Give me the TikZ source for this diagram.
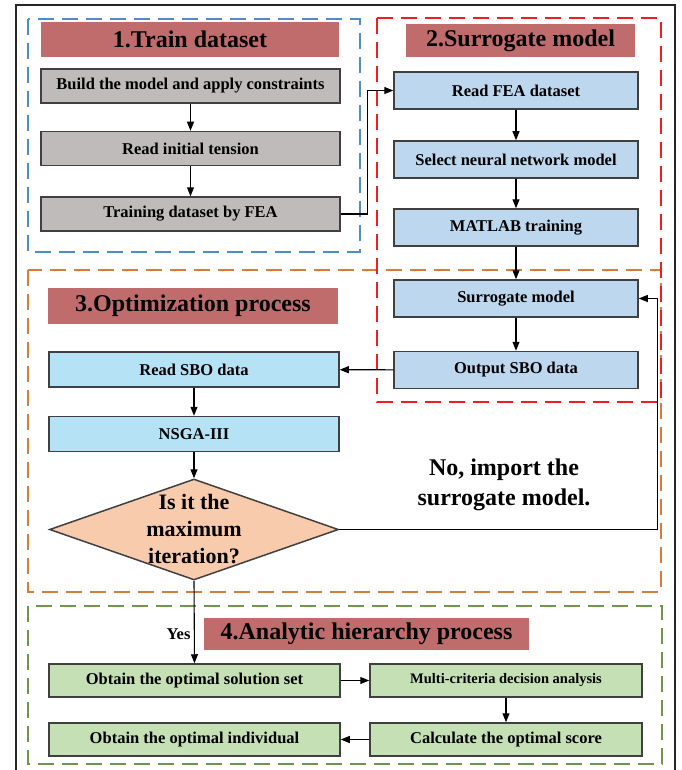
\documentclass[tikz,border=0pt]{standalone}
\usepackage{fontspec}
\setmainfont{Liberation Serif}
\usetikzlibrary{shapes.geometric,arrows.meta}
\definecolor{titlered}{RGB}{192,108,108}
\definecolor{boxgray}{RGB}{191,187,186}
\definecolor{boxblue}{RGB}{189,215,238}
\definecolor{boxcyan}{RGB}{182,226,246}
\definecolor{boxpeach}{RGB}{248,203,173}
\definecolor{boxgreen}{RGB}{197,224,180}
\definecolor{dashblue}{RGB}{80,140,200}
\definecolor{dashred}{RGB}{240,30,30}
\definecolor{dashorange}{RGB}{214,125,60}
\definecolor{dashgreen}{RGB}{110,150,80}

\begin{document}
\begin{tikzpicture}[x=1pt, y=-1pt,
			box/.style={draw=black!75, line width=1.5pt, inner sep=0pt, font=\bfseries\fontsize{16.5}{20}\selectfont},
			graybox/.style={box, fill=boxgray, minimum width=299pt, minimum height=34pt},
			bluebox/.style={box, fill=boxblue, minimum width=244pt, minimum height=37pt},
			cyanbox/.style={box, fill=boxcyan, minimum width=290pt, minimum height=35pt},
			greenbox/.style={box, fill=boxgreen, minimum height=33pt},
			titlebox/.style={fill=titlered, inner sep=0pt, font=\bfseries\fontsize{24}{29}\selectfont},
			decision/.style={diamond, draw=black!75, line width=1.5pt, fill=boxpeach, inner sep=0pt,
				minimum width=289pt, minimum height=101pt},
			dtext/.style={align=center, inner sep=0pt, font=\bfseries\fontsize{22}{27}\selectfont},
			arr/.style={-{Triangle[length=9pt,width=7pt]}, line width=1.1pt},
			frame/.style={line width=2pt, dash pattern=on 16pt off 8pt}]
			\useasboundingbox (0,0) rectangle (681,770);
			\draw[line width=1.8pt, black!85] (16,770) -- (16,5) -- (675,5) -- (675,770);
			\draw[frame, dashblue] (28,19) rectangle (360,252);
			\draw[frame, dashorange] (28,270) rectangle (661,592);
			\draw[frame, dashred] (377,18) rectangle (661,402);
			\draw[frame, dashgreen] (28,606) rectangle (662,764);

			\node[titlebox, minimum width=298pt, minimum height=35pt] (t1) at (190,39.5) {1.Train dataset};
			\node[titlebox, minimum width=229pt, minimum height=33pt] (t2) at (520.5,40.5) {2.Surrogate model};
			\node[titlebox, minimum width=290pt, minimum height=36pt] (t3) at (193,306) {3.Optimization process};
			\node[titlebox, minimum width=325pt, minimum height=32pt] (t4) at (366.5,634) {4.Analytic hierarchy process};

			\node[graybox] (build) at (190.5,86) {Build the model and apply constraints};
			\node[graybox] (tension) at (190.5,148.5) {Read initial tension};
			\node[graybox] (fea) at (190.5,214) {Training dataset by FEA};

			\node[bluebox] (readfea) at (516,90.5) {Read FEA dataset};
			\node[bluebox] (select) at (516,159.5) {Select neural network model};
			\node[bluebox] (matlab) at (516,227.5) {MATLAB training};
			\node[bluebox] (surr) at (516,298.5) {Surrogate model};
			\node[bluebox] (output) at (516,370) {Output SBO data};

			\node[cyanbox] (readsbo) at (194,369.5) {Read SBO data};
			\node[cyanbox] (nsga) at (194,434) {NSGA-III};
			\node[decision, label={[dtext]center:{Is it the\\maximum\\iteration?}}] (check) at (194,529.5) {};
			\node[align=center, font=\bfseries\fontsize{24}{30}\selectfont] (notext) at (504,485) {No, import the\\surrogate model.};

			\node[greenbox, minimum width=291pt] (sol) at (194.5,680.5) {Obtain the optimal solution set};
			\node[greenbox, minimum width=272pt, font=\bfseries\fontsize{14.5}{18}\selectfont] (multi) at (506,680.5) {Multi-criteria decision analysis};
			\node[greenbox, minimum width=272pt] (calc) at (506,739.5) {Calculate the optimal score};
			\node[greenbox, minimum width=291pt] (indiv) at (194.5,739.5) {Obtain the optimal individual};

			\draw[arr] (build) -- (tension);
			\draw[arr] (tension) -- (fea);
			\draw[arr] (fea.east) -- ++(27,0) |- (readfea.west);
			\draw[arr] (readfea) -- (select);
			\draw[arr] (select) -- (matlab);
			\draw[arr] (matlab) -- (surr);
			\draw[arr] (surr) -- (output);
			\draw[arr] (output) -- (readsbo);
			\draw[arr] (readsbo) -- (nsga);
			\draw[arr] (nsga) -- (check);
			\draw[arr] (check.east) -| ([xshift=19pt]surr.east) -- (surr.east);
			\draw[arr] (check.south) -- node[pos=0.65, left, font=\bfseries\fontsize{16.5}{20}\selectfont] {Yes} (sol.north);
			\draw[arr] (sol) -- (multi);
			\draw[arr] (multi) -- (calc);
			\draw[arr] (calc) -- (indiv);
		\end{tikzpicture}
\end{document}
